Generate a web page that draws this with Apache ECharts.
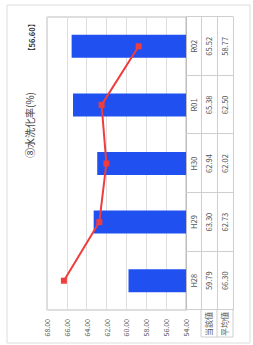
<!DOCTYPE html>
<html>
<head>
<meta charset="utf-8">
<script src="https://cdn.jsdelivr.net/npm/echarts@6/dist/echarts.min.js"></script>
<style>
  html, body { margin: 0; padding: 0; background: #fff; overflow: hidden; }
  #wrap { width: 253px; height: 345px; position: relative; overflow: hidden; }
  /* the scanned chart is lying on its side, so draw it upright and turn it */
  #chart {
    width: 345px; height: 253px;
    position: absolute; left: 0; top: 0;
    transform-origin: 0 0;
    transform: translate(0, 345px) rotate(-90deg);
  }
</style>
</head>
<body>
<div id="wrap"><div id="chart"></div></div>
<script>
// 年度
const categories = ['H28', 'H29', 'H30', 'R01', 'R02'];
// 当該値 (棒)
const currentVals = [59.79, 63.30, 62.94, 65.38, 65.52];
// 平均値 (折れ線)
const averageVals = [66.30, 62.73, 62.02, 62.50, 58.77];
const rowLabels = ['当該値', '平均値'];
const titleText = '⑧水洗化率(%)';
const noteText = '【56.60】';

const font = '"Noto Sans CJK JP", "Noto Sans", sans-serif';
const lineColor = '#cfcfcf';

let chart = echarts.init(document.getElementById('chart'), null, { renderer: 'svg' });

// table rows are drawn as extra x axes stacked below the grid
function tableAxis(offset, values) {
  return {
    type: 'category',
    data: categories,
    position: 'bottom',
    offset: offset,
    axisLine: { show: true, lineStyle: { color: lineColor, width: 1 } },
    axisTick: { show: false },
    axisLabel: {
      show: !!values,
      margin: 3.5,
      fontSize: 7.5,
      color: '#555',
      fontFamily: font,
      formatter: (v, i) => values ? values[i].toFixed(2) : ''
    }
  };
}

const option = {
  animation: false,
  textStyle: { fontFamily: font },
  grid: {
    left: 35, right: 17, top: 47, bottom: 67,
    show: true, borderColor: '#bdbdbd', borderWidth: 1
  },
  graphic: [
    // outer frame of the scanned page
    { type: 'rect', shape: { x: 2, y: 7, width: 338, height: 243 },
      style: { fill: 'none', stroke: '#dcdcdc', lineWidth: 1 }, silent: true },
    { type: 'text', left: 187, top: 24,
      style: { text: titleText, fontSize: 10, fill: '#444', fontFamily: font } },
    { type: 'text', left: 290, top: 28,
      style: { text: noteText, fontSize: 7.5, fill: '#333', fontWeight: 'bold', fontFamily: font } },
    // row label cells on the left of the table
    { type: 'polyline', shape: { points: [[35, 201], [8, 201], [8, 233], [35, 233]] },
      style: { fill: 'none', stroke: lineColor, lineWidth: 1 }, silent: true },
    { type: 'line', shape: { x1: 8, y1: 217, x2: 35, y2: 217 },
      style: { stroke: lineColor, lineWidth: 1 }, silent: true },
    { type: 'text', left: 9, top: 204,
      style: { text: rowLabels[0], fontSize: 8, fill: '#555', fontFamily: font } },
    { type: 'text', left: 9, top: 220,
      style: { text: rowLabels[1], fontSize: 8, fill: '#555', fontFamily: font } }
  ],
  xAxis: [
    {
      type: 'category',
      data: categories,
      position: 'bottom',
      axisLine: { show: true, lineStyle: { color: '#bdbdbd' } },
      axisTick: { show: true, length: 47, lineStyle: { color: lineColor } },
      axisLabel: { margin: 3.5, fontSize: 7.5, color: '#555', fontFamily: font }
    },
    tableAxis(15, currentVals),
    tableAxis(31, averageVals),
    tableAxis(47, null)
  ],
  yAxis: {
    type: 'value',
    min: 54,
    max: 68,
    interval: 2,
    axisLine: { show: false },
    axisTick: { show: false },
    axisLabel: {
      margin: 9, fontSize: 7, color: '#555', fontFamily: font,
      formatter: v => v.toFixed(2)
    },
    splitLine: { lineStyle: { color: '#dedede', width: 1 } }
  },
  series: [
    {
      name: rowLabels[0],
      type: 'bar',
      data: currentVals,
      barWidth: 23,
      itemStyle: { color: '#2050f0' }
    },
    {
      name: rowLabels[1],
      type: 'line',
      data: averageVals,
      symbol: 'rect',
      symbolSize: 6,
      lineStyle: { color: '#f03c3c', width: 2 },
      itemStyle: { color: '#f03c3c' },
      z: 5
    }
  ]
};

chart.setOption(option);
</script>
</body>
</html>
